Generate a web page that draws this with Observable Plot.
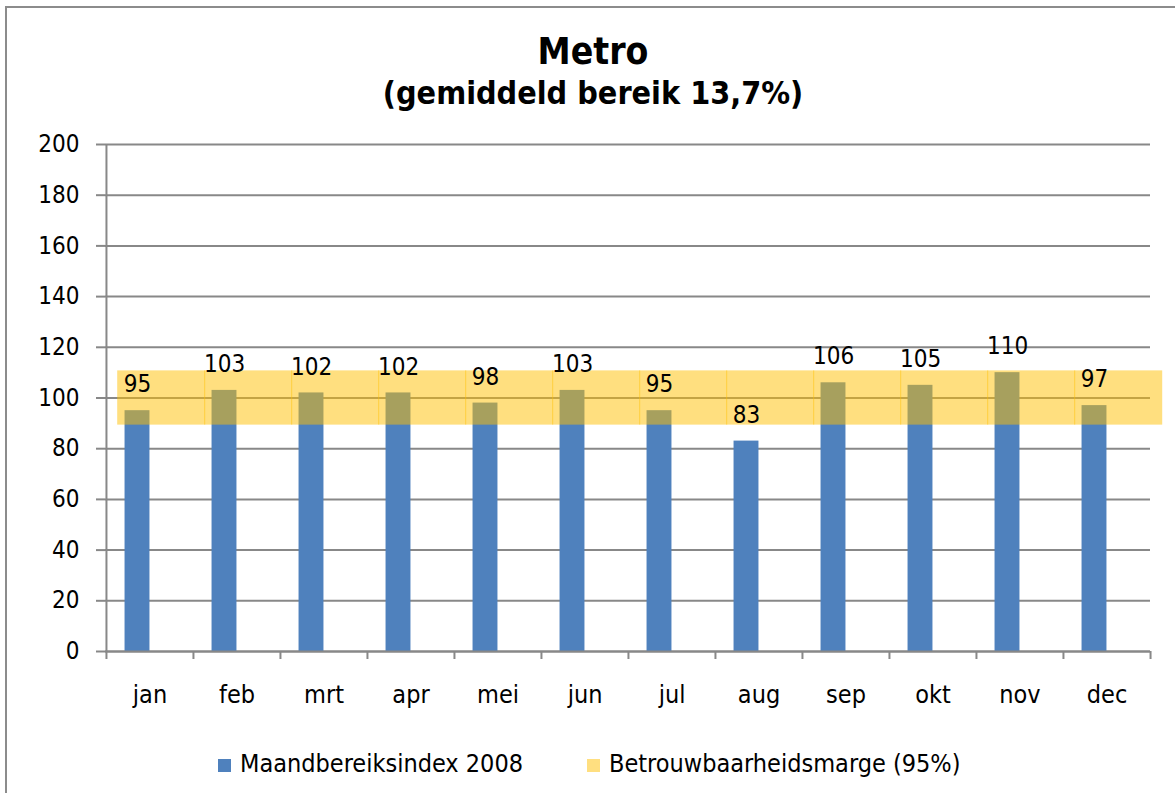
<!DOCTYPE html>
<html>
<head>
<meta charset="utf-8">
<script src="https://cdn.jsdelivr.net/npm/d3@7"></script>
<script src="https://cdn.jsdelivr.net/npm/@observablehq/plot@0.6"></script>
<style>
  html, body { margin: 0; padding: 0; background: #fff; }
  body { width: 1175px; height: 793px; overflow: hidden; position: relative;
         font-family: "DejaVu Sans Condensed", "DejaVu Sans", sans-serif; font-stretch: condensed; color: #000; }
  #frame { position: absolute; left: 5px; top: 6px; width: 1250px; height: 900px; border: 2px solid #8c8c8c; box-sizing: border-box; }
  .title { position: absolute; left: 0; width: 1186px; text-align: center; font-weight: bold; line-height: 1; white-space: nowrap; }
  #t1 { top: 33px; font-size: 37px; }
  #t2 { top: 77px; font-size: 32px; }
  #chart { position: absolute; left: 0; top: 130px; }
  #legend { position: absolute; top: 751px; left: 0; font-size: 25px; line-height: 1; white-space: nowrap; }
  .item { position: absolute; display: flex; align-items: center; }
  .sw { width: 13px; height: 13px; margin-right: 9px; margin-top: 3px; }
</style>
</head>
<body>
<div id="frame"></div>
<div class="title" id="t1">Metro</div>
<div class="title" id="t2">(gemiddeld bereik 13,7%)</div>
<div id="chart"></div>
<div id="legend"></div>
<script>
// ---- data ----
const months = ["jan","feb","mrt","apr","mei","jun","jul","aug","sep","okt","nov","dec"];
const indexValues = [95,103,102,102,98,103,95,83,106,105,110,97];
const marginLow = 89.3;
const marginHigh = 110.7;
const yTicks = [0,20,40,60,80,100,120,140,160,180,200];
const seriesNames = ["Maandbereiksindex 2008", "Betrouwbaarheidsmarge (95%)"];

// ---- styles ----
const blue = "#4f81bd";
const bandColor = "#ffc000";
const bandOpacity = 0.5;
const gridColor = "#888888";
const fontFam = '"DejaVu Sans Condensed", "DejaVu Sans", sans-serif';

const W = 1175, H = 600, mL = 105, mR = 25, mT = 14, mB = 79;
const bw = (W - mL - mR) / months.length;
const barW = 25;

const rows = months.map((m, i) => ({month: m, value: indexValues[i], low: marginLow, high: marginHigh}));

const chart = Plot.plot({
  width: W, height: H,
  marginLeft: mL, marginRight: mR, marginTop: mT, marginBottom: mB,
  style: {fontFamily: fontFam, fontSize: "24px", color: "#000", background: "transparent", fontStretch: "condensed"},
  x: {type: "band", domain: months, padding: 0, axis: null, label: null},
  y: {domain: [0, 200], axis: null, label: null},
  marks: [
    Plot.gridY(yTicks, {stroke: gridColor, strokeOpacity: 1, strokeWidth: 2}),
    Plot.axisY(yTicks, {tickSize: 9, tickPadding: 17, stroke: gridColor, strokeWidth: 2, fill: "#000", fontSize: 24, label: null}),
    Plot.ruleX([months[0]], {x: d => d, dx: -bw / 2, stroke: gridColor, strokeWidth: 2}),
    Plot.barY(rows, {x: "month", y1: 0, y2: "value", fill: blue, insetLeft: bw / 2 - barW, insetRight: bw / 2}),
    Plot.barY(rows, {x: "month", y1: "low", y2: "high", fill: bandColor, fillOpacity: bandOpacity, dx: 11.7, insetLeft: -0.5, insetRight: -0.5}),
    Plot.ruleY([0], {stroke: gridColor, strokeWidth: 2}),
    Plot.axisX(months, {tickSize: 8, tickFormat: () => "", dx: -bw / 2, stroke: gridColor, strokeWidth: 2, label: null}),
    Plot.axisX([months[months.length - 1]], {tickSize: 8, tickFormat: () => "", dx: bw / 2, stroke: gridColor, strokeWidth: 2, label: null}),
    Plot.axisX(months, {tickSize: 0, tickPadding: 34, fill: "#000", fontSize: 25, label: null}),
    Plot.text(rows, {x: "month", y: "value", text: d => String(d.value), dx: -barW / 2, dy: -26, fill: "#000", fontSize: 24})
  ]
});
document.getElementById("chart").appendChild(chart);

// legend
const legend = document.getElementById("legend");
const legendItems = [
  {name: seriesNames[0], color: blue, left: 218},
  {name: seriesNames[1], color: "#ffdf80", left: 587}
];
for (const it of legendItems) {
  const d = document.createElement("div");
  d.className = "item";
  d.style.left = it.left + "px";
  const s = document.createElement("span");
  s.className = "sw";
  s.style.background = it.color;
  const t = document.createElement("span");
  t.textContent = it.name;
  d.appendChild(s); d.appendChild(t);
  legend.appendChild(d);
}
</script>
</body>
</html>
